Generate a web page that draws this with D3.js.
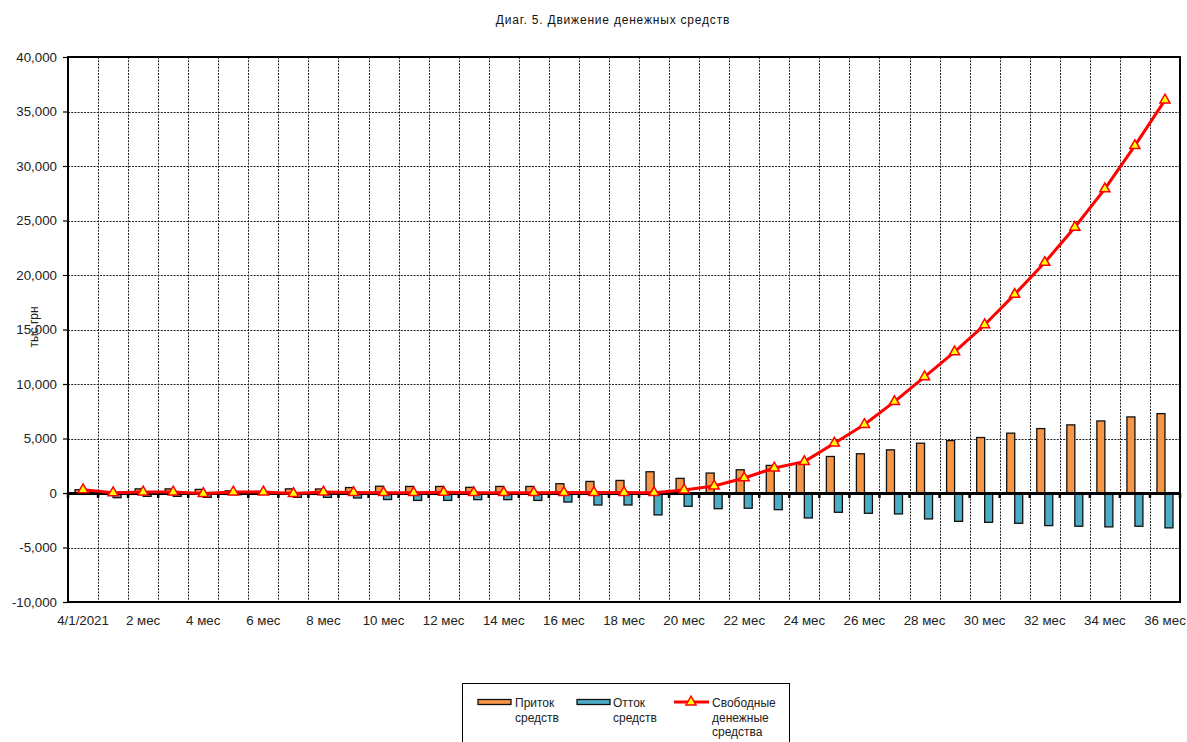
<!DOCTYPE html>
<html>
<head>
<meta charset="utf-8">
<script src="https://cdn.jsdelivr.net/npm/d3@7"></script>
<style>
  html, body { margin: 0; padding: 0; background: #fff; }
  svg { display: block; font-family: "Liberation Sans", Arial, sans-serif; }
</style>
</head>
<body>
<svg id="chart" width="1187" height="742"></svg>
<script>
// Periods: start date, then months 1..36
const categories = ["4/1/2021",
  "1 мес","2 мес","3 мес","4 мес","5 мес","6 мес","7 мес","8 мес","9 мес","10 мес",
  "11 мес","12 мес","13 мес","14 мес","15 мес","16 мес","17 мес","18 мес","19 мес","20 мес",
  "21 мес","22 мес","23 мес","24 мес","25 мес","26 мес","27 мес","28 мес","29 мес","30 мес",
  "31 мес","32 мес","33 мес","34 мес","35 мес","36 мес"];

// Cash inflow, thousand UAH
const inflow = [300, 50, 380, 380, 330, 200, 150, 380, 370, 500, 620,
  600, 600, 520, 600, 600, 850, 1060, 1150, 1950, 1340,
  1830, 2130, 2530, 2800, 3350, 3600, 3960, 4570, 4810, 5090,
  5490, 5910, 6250, 6610, 6980, 7280];

// Cash outflow, thousand UAH
const outflow = [-100, -430, -310, -310, -400, -150, -100, -400, -400, -460, -600,
  -680, -680, -610, -610, -680, -830, -1100, -1100, -2010, -1220,
  -1440, -1400, -1530, -2290, -1770, -1860, -1920, -2380, -2600, -2690,
  -2780, -2990, -3050, -3110, -3050, -3200];

// Free cash balance, thousand UAH
const freeCash = [300, 20, 90, 90, -50, 90, 90, -50, 90, 40, 30,
  30, 60, 30, 30, 30, 40, 40, 40, 30, 270,
  640, 1380, 2290, 2880, 4570, 6280, 8380, 10660, 12950, 15430,
  18220, 21150, 24380, 27900, 31870, 36050];

const yTicks = [-10000, -5000, 0, 5000, 10000, 15000, 20000, 25000, 30000, 35000, 40000];

const colors = { inflow: "#F79646", outflow: "#4BACC6", line: "#FF0000", marker: "#FFFF00" };

const plot = { left: 68, right: 1180, top: 57, bottom: 602 };

const svg = d3.select("#chart");
const fmt = d3.formatLocale({ decimal: ".", thousands: ",", grouping: [3], currency: ["", ""], minus: "-" }).format(",");

const x = d3.scaleBand().domain(categories).range([plot.left, plot.right]).paddingInner(0).paddingOuter(0);
const bw = x.bandwidth();
const xs = d3.scaleBand().domain(["inflow", "outflow"]).range([bw / 2 - 8, bw / 2 + 8]);
const y = d3.scaleLinear().domain([-10000, 40000]).range([plot.bottom, plot.top]);

// Title
svg.append("text")
  .attr("x", 613).attr("y", 24)
  .attr("text-anchor", "middle")
  .attr("font-size", 12)
  .attr("letter-spacing", 0.8)
  .attr("fill", "#111")
  .text("Диаг. 5. Движение денежных средств");

// Grid
const grid = svg.append("g").attr("stroke", "#222").attr("stroke-width", 1).attr("stroke-dasharray", "2,1.2");
grid.selectAll("line.h").data(yTicks.filter(d => d > -10000 && d < 40000)).join("line")
  .attr("x1", plot.left).attr("x2", plot.right)
  .attr("y1", d => Math.round(y(d)) + 0.5).attr("y2", d => Math.round(y(d)) + 0.5);
grid.selectAll("line.v").data(categories.slice(1)).join("line")
  .attr("x1", d => Math.round(x(d)) + 0.5).attr("x2", d => Math.round(x(d)) + 0.5)
  .attr("y1", plot.top).attr("y2", plot.bottom);

// Y axis
const yAxis = d3.axisLeft(y).tickValues(yTicks).tickFormat(fmt).tickSize(5).tickPadding(6);
const ya = svg.append("g").attr("transform", `translate(${plot.left},0)`).call(yAxis);
ya.select(".domain").remove();
ya.selectAll(".tick line").attr("stroke", "#000").attr("stroke-width", 1.2);
ya.selectAll(".tick text").attr("font-size", 13.3).attr("fill", "#222")
  .attr("font-family", "'Liberation Sans', Arial, sans-serif");

svg.append("text")
  .attr("transform", "translate(38,327) rotate(-90)")
  .attr("text-anchor", "middle")
  .attr("font-size", 12)
  .attr("fill", "#222")
  .text("тыс.грн");

// Bars
const bars = svg.append("g");
const barData = [];
categories.forEach((c, i) => {
  barData.push({ c, key: "inflow", v: inflow[i] });
  barData.push({ c, key: "outflow", v: outflow[i] });
});
bars.selectAll("rect").data(barData).join("rect")
  .attr("x", d => x(d.c) + xs(d.key))
  .attr("width", xs.bandwidth())
  .attr("y", d => y(Math.max(0, d.v)))
  .attr("height", d => Math.abs(y(d.v) - y(0)))
  .attr("fill", d => colors[d.key])
  .attr("stroke", "#111")
  .attr("stroke-width", 1.3);

// Plot border
svg.append("rect")
  .attr("x", plot.left).attr("y", plot.top)
  .attr("width", plot.right - plot.left).attr("height", plot.bottom - plot.top)
  .attr("fill", "none").attr("stroke", "#000").attr("stroke-width", 2);

// Category axis at zero
const xAxis = d3.axisBottom(x).tickSize(0).tickFormat("");
const xa = svg.append("g").attr("transform", `translate(0,${y(0)})`).call(xAxis);
xa.select(".domain").attr("stroke", "#000").attr("stroke-width", 3);
xa.selectAll(".tick").remove();
svg.append("g").selectAll("line").data(categories.concat(["__end"])).join("line")
  .attr("x1", (d, i) => i < categories.length ? x(d) : plot.right)
  .attr("x2", (d, i) => i < categories.length ? x(d) : plot.right)
  .attr("y1", y(0)).attr("y2", y(0) + 5)
  .attr("stroke", "#000").attr("stroke-width", 2.5);

// Category labels (every second period)
svg.append("g").selectAll("text")
  .data(categories.filter((d, i) => i % 2 === 0)).join("text")
  .attr("x", d => x(d) + bw / 2)
  .attr("y", 625)
  .attr("text-anchor", "middle")
  .attr("font-size", 13.3)
  .attr("fill", "#222")
  .text(d => d);

// Free cash line
const line = d3.line().x((d, i) => x(categories[i]) + bw / 2).y(d => y(d));
svg.append("path")
  .datum(freeCash)
  .attr("d", line)
  .attr("fill", "none")
  .attr("stroke", colors.line)
  .attr("stroke-width", 3)
  .attr("stroke-linejoin", "round");

const tri = d3.symbol().type(d3.symbolTriangle).size(44);
svg.append("g").selectAll("path").data(freeCash).join("path")
  .attr("d", tri)
  .attr("transform", (d, i) => `translate(${x(categories[i]) + bw / 2},${y(d)})`)
  .attr("fill", colors.marker)
  .attr("stroke", colors.line)
  .attr("stroke-width", 1.5);

// Legend
const lg = svg.append("g");
lg.append("rect").attr("x", 462.5).attr("y", 683.5).attr("width", 327).attr("height", 80)
  .attr("fill", "#fff").attr("stroke", "#000").attr("stroke-width", 1);

function legendText(x0, lines) {
  const t = lg.append("text").attr("x", x0).attr("y", 707).attr("font-size", 12).attr("fill", "#222");
  lines.forEach((s, i) => t.append("tspan").attr("x", x0).attr("dy", i === 0 ? 0 : 14.5).text(s));
}
lg.append("rect").attr("x", 478).attr("y", 699.5).attr("width", 33).attr("height", 5)
  .attr("fill", colors.inflow).attr("stroke", "#111").attr("stroke-width", 1.3);
legendText(515, ["Приток", "средств"]);
lg.append("rect").attr("x", 577).attr("y", 699.5).attr("width", 33).attr("height", 5)
  .attr("fill", colors.outflow).attr("stroke", "#111").attr("stroke-width", 1.3);
legendText(613, ["Отток", "средств"]);
lg.append("line").attr("x1", 674).attr("x2", 709).attr("y1", 702).attr("y2", 702)
  .attr("stroke", colors.line).attr("stroke-width", 3);
lg.append("path").attr("d", tri).attr("transform", "translate(691,702)")
  .attr("fill", colors.marker).attr("stroke", colors.line).attr("stroke-width", 1.5);
legendText(712, ["Свободные", "денежные", "средства"]);
</script>
</body>
</html>
